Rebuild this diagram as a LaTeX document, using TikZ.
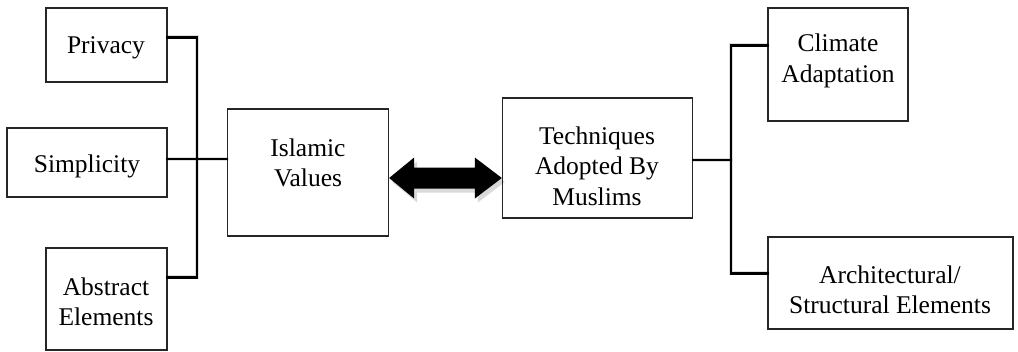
\documentclass[tikz,border=0pt]{standalone}
\usepackage{fontspec}
\setmainfont{Liberation Serif}
\usetikzlibrary{calc}
\begin{document}
\begin{tikzpicture}[x=1pt,y=-1pt,
  box/.style={draw=black!85,line width=1.3pt,rectangle,inner sep=0pt,fill=white},
  lbl/.style={align=center,font=\fontsize{25.5}{30.5}\selectfont,inner sep=0pt},
  link/.style={line width=2.8pt,black,line cap=rect},
  shade/.style={line width=4pt,black,opacity=0.12,line cap=round},
]
\useasboundingbox (0,0) rectangle (1018,351);

% boxes
\node[box,minimum width=121pt,minimum height=74pt]  (privacy)    at (106.5,45) {};
\node[box,minimum width=160pt,minimum height=69pt]  (simplicity) at (87,162.5) {};
\node[box,minimum width=121pt,minimum height=102pt] (abstract)   at (106.5,299) {};
\node[box,minimum width=161pt,minimum height=127pt] (islamic)    at (308,172.5) {};
\node[box,minimum width=190pt,minimum height=120pt] (tech)       at (597.5,158) {};
\node[box,minimum width=140pt,minimum height=113pt] (climate)    at (838,64.5) {};
\node[box,minimum width=245pt,minimum height=92pt]  (arch)       at (890.5,283) {};

% labels
\node[lbl] (privacy-t)    at (106,48)  {Privacy};
\node[lbl] (simplicity-t) at (87,166)  {Simplicity};
\node[lbl] (abstract-t)   at (106,302) {Abstract\\Elements};
\node[lbl] (islamic-t)    at (308,163) {Islamic\\Values};
\node[lbl] (tech-t)       at (597,166) {Techniques\\Adopted By\\Muslims};
\node[lbl] (climate-t)    at (838,61)  {Climate\\Adaptation};
\node[lbl] (arch-t)       at (890,290) {Architectural/\\Structural Elements};

% junction points
\coordinate (pA) at ($(privacy.north east)+(0,30)$);
\coordinate (aA) at ($(abstract.north east)+(0,30)$);
\coordinate (sA) at ($(simplicity.east)+(0,-3.5)$);
\coordinate (tA) at ($(tech.east)+(0,2)$);
\coordinate (cA) at ($(climate.north west)+(0,38)$);
\coordinate (rA) at ($(arch.north west)+(0,37)$);
\coordinate (trunkL) at (197,0);
\coordinate (trunkR) at (731,0);

% soft drop shadows of the connectors
\begin{scope}[shift={(2.5,3.5)}]
  \draw[shade] (pA) -- (trunkL |- pA) -- (trunkL |- aA) -- (aA);
  \draw[shade] (sA) -- (islamic.west |- sA);
  \draw[shade] (tA) -- (trunkR |- tA);
  \draw[shade] (cA) -- (trunkR |- cA) -- (trunkR |- rA) -- (rA);
\end{scope}

% connectors
\draw[link] (pA) -- (trunkL |- pA) -- (trunkL |- aA) -- (aA);
\draw[link] (sA) -- (islamic.west |- sA);
\draw[link] (tA) -- (trunkR |- tA);
\draw[link] (cA) -- (trunkR |- cA) -- (trunkR |- rA) -- (rA);

% double-headed block arrow
\coordinate (arL) at ($(islamic.east)+(0,5.5)$);
\coordinate (arR) at (tech.west |- arL);
\fill[black,opacity=0.15] ($(arL)+(3,4)$) -- ++(25,-20.5) -- ++(0,10) -- ($(arR)+(-24,-6.5)$) -- ++(0,-10) -- ($(arR)+(3,4)$)
  -- ++(-27,20.5) -- ++(0,-10) -- ($(arL)+(28,14.5)$) -- ++(0,10) -- cycle;
\fill[black] (arL) -- ++(25,-20.5) -- ++(0,10) -- ($(arR)+(-27,-10.5)$) -- ++(0,-10) -- (arR)
  -- ++(-27,20.5) -- ++(0,-10) -- ($(arL)+(25,10.5)$) -- ++(0,10) -- cycle;
\end{tikzpicture}
\end{document}
